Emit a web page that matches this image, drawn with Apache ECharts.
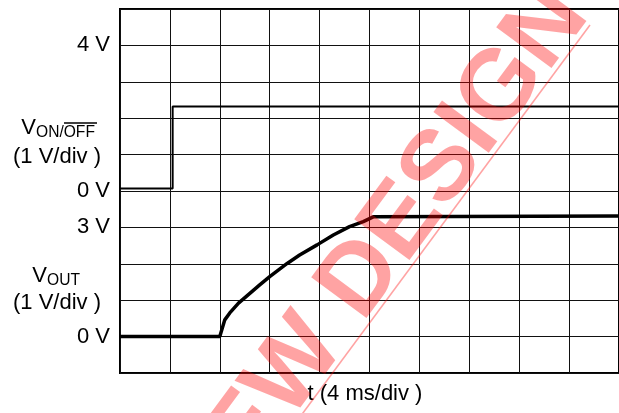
<!DOCTYPE html>
<html>
<head>
<meta charset="utf-8">
<script src="https://cdn.jsdelivr.net/npm/echarts@6/dist/echarts.min.js"></script>
<style>
html,body{margin:0;padding:0;background:#fff;}
#c{width:619px;height:413px;}
</style>
</head>
<body>
<div id="c"></div>
<script>
// ---- data (time in ms, voltages in V) ----
const voutTime = [0, 8.0, 8.4, 8.8, 9.5, 11.2, 12.0, 13.4, 14.4, 15.8, 17.1, 18.4, 19.5, 20.3, 40];
const voutVolts = [0, 0, 0.46, 0.65, 0.92, 1.42, 1.65, 2.01, 2.24, 2.52, 2.79, 3.02, 3.16, 3.29, 3.31];
const vonTime = [0, 4.22, 4.22, 40];
const vonVolts = [0.07, 0.07, 2.32, 2.32];
// screen divisions: VOUT 0 V sits on division 1, VON/OFF 0 V on division 5
const voutOffsetDiv = 1;
const vonOffsetDiv = 5;
const yTickDivs = [9, 5, 4, 1];
const yTickLabels = ['4 V', '0 V', '3 V', '0 V'];
const xAxisTitle = 't (4 ms/div )';
const scaleLabel = '(1 V/div )';

const FONT = '"Liberation Sans", Arial, sans-serif';
const wm = 'rgba(255,0,0,0.36)';

const voutData = voutTime.map((t, i) => [t, voutVolts[i] + voutOffsetDiv]);
const vonData = vonTime.map((t, i) => [t, vonVolts[i] + vonOffsetDiv]);

const chart = echarts.init(document.getElementById('c'), null, {renderer: 'canvas'});

const ang = 53.5 * Math.PI / 180;

chart.setOption({
  animation: false,
  backgroundColor: '#fff',
  grid: {left: 120, top: 9, right: 0, bottom: 40, show: true, borderColor: '#000', borderWidth: 2, backgroundColor: 'transparent'},
  xAxis: {
    type: 'value', min: 0, max: 40, interval: 4,
    axisLine: {show: false}, axisTick: {show: false}, axisLabel: {show: false},
    splitLine: {show: true, lineStyle: {color: '#111', width: 1}}
  },
  yAxis: {
    type: 'value', min: 0, max: 10, interval: 1,
    axisLine: {show: false}, axisTick: {show: false},
    axisLabel: {
      show: true, margin: 10, color: '#000', fontSize: 22, fontFamily: FONT,
      formatter: function (v) { const k = yTickDivs.indexOf(v); return k >= 0 ? yTickLabels[k] : ''; }
    },
    splitLine: {show: true, lineStyle: {color: '#111', width: 1}}
  },
  series: [
    {type: 'line', data: vonData, symbol: 'none', lineStyle: {color: '#000', width: 2}, z: 5},
    {type: 'line', data: voutData, symbol: 'none', lineStyle: {color: '#000', width: 3.5}, z: 6}
  ],
  graphic: [
    {type: 'text', x: 36, y: 139, style: {text: 'V', fontSize: 22, fontFamily: FONT, fill: '#000', align: 'right', verticalAlign: 'bottom'}},
    {type: 'text', x: 36, y: 141, style: {text: 'ON/OFF', fontSize: 15.6, fontFamily: FONT, fill: '#000', align: 'left', verticalAlign: 'bottom'}},
    {type: 'line', shape: {x1: 64, y1: 123, x2: 97, y2: 123}, style: {stroke: '#000', lineWidth: 1.5}},
    {type: 'text', x: 57, y: 157, style: {text: scaleLabel, fontSize: 22, fontFamily: FONT, fill: '#000', align: 'center', verticalAlign: 'middle'}},
    {type: 'text', x: 47, y: 287, style: {text: 'V', fontSize: 22, fontFamily: FONT, fill: '#000', align: 'right', verticalAlign: 'bottom'}},
    {type: 'text', x: 47, y: 289, style: {text: 'OUT', fontSize: 15.6, fontFamily: FONT, fill: '#000', align: 'left', verticalAlign: 'bottom'}},
    {type: 'text', x: 57, y: 303, style: {text: scaleLabel, fontSize: 22, fontFamily: FONT, fill: '#000', align: 'center', verticalAlign: 'middle'}},
    {type: 'text', x: 365, y: 394, style: {text: xAxisTitle, fontSize: 22, fontFamily: FONT, fill: '#000', align: 'center', verticalAlign: 'middle'}},
    // watermark
    {type: 'text', x: 185, y: 517, rotation: ang, z: 100,
      style: {text: 'NEW DESIGN', fontSize: 100, fontWeight: 'bold', fontFamily: FONT, fill: wm, align: 'left', verticalAlign: 'middle'}},
    {type: 'line', z: 100, shape: {x1: 590, y1: 25, x2: 280, y2: 444}, style: {stroke: wm, lineWidth: 1.6}}
  ]
});
</script>
</body>
</html>
